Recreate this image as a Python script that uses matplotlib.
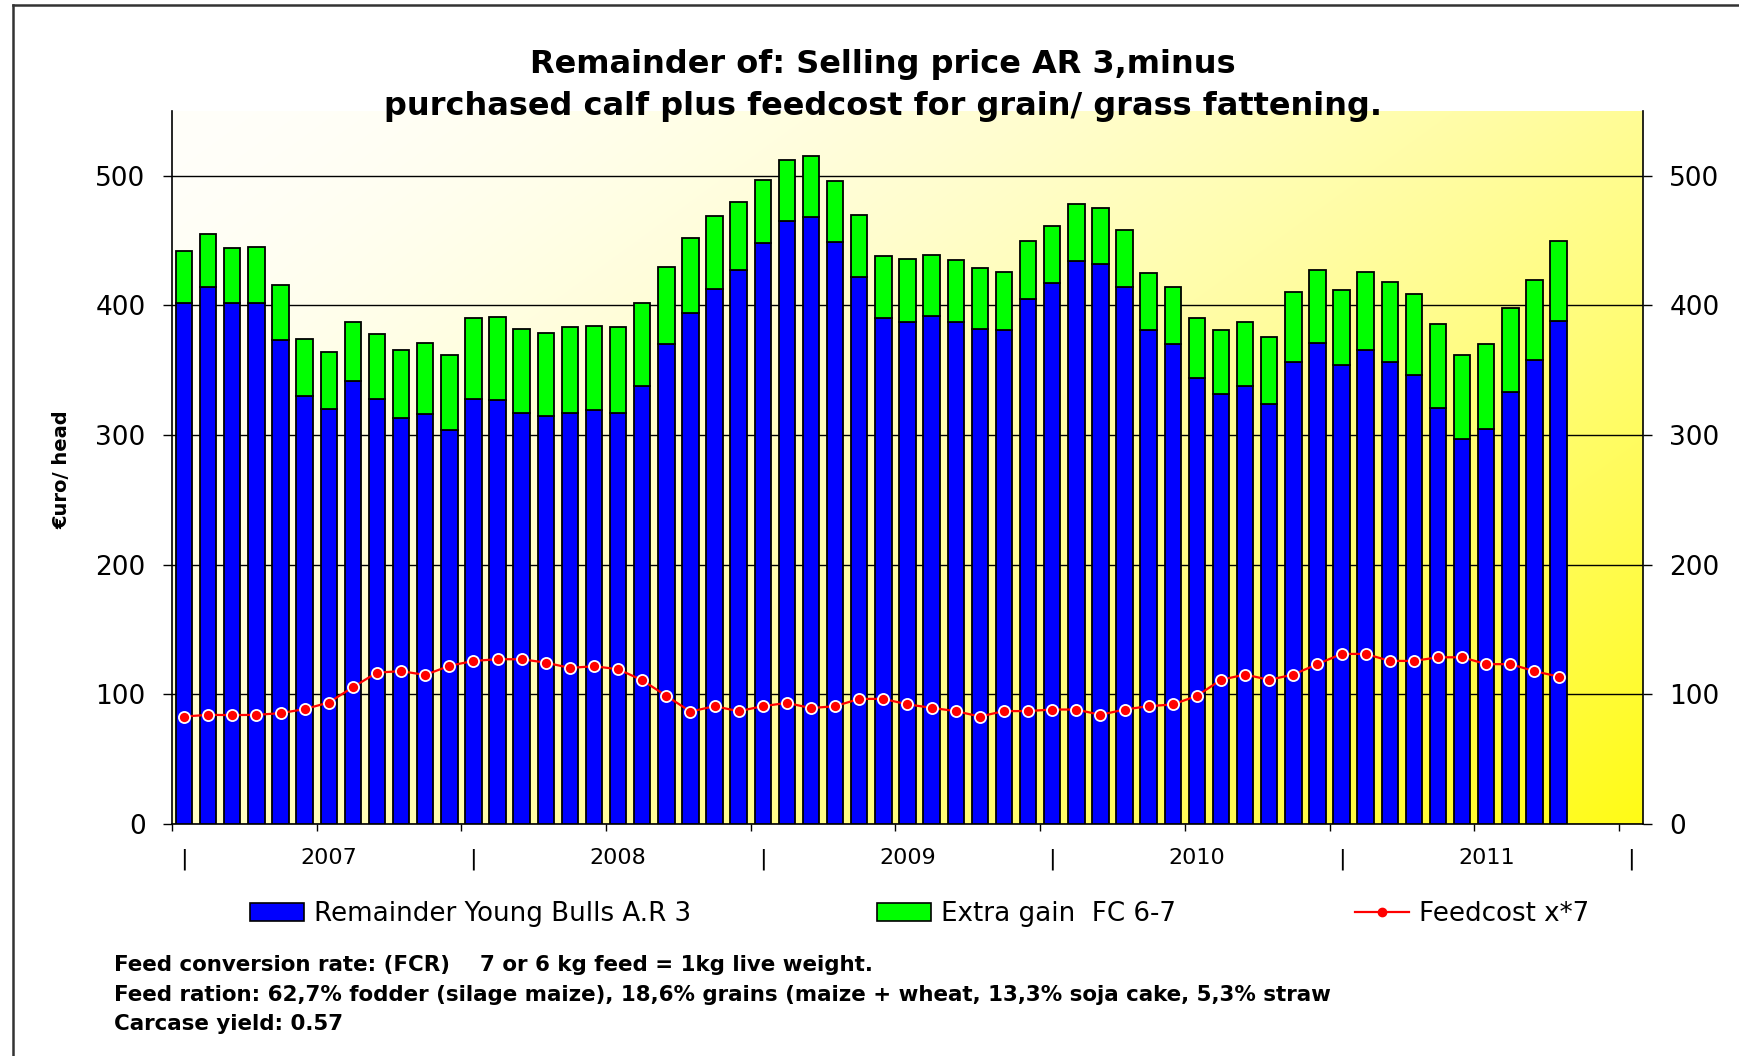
import numpy as np
import matplotlib
matplotlib.use("Agg")
import matplotlib.pyplot as plt
from matplotlib.lines import Line2D
from matplotlib.patches import Patch

# ---------------- data ----------------
remainder = [402, 414, 402, 402, 373, 330, 320, 342, 328, 313, 316, 304,
             328, 327, 317, 315, 317, 319, 317, 338, 370, 394, 413, 427,
             448, 465, 468, 449, 422, 390, 387, 392, 387, 382, 381, 405,
             417, 434, 432, 414, 381, 370, 344, 332, 338, 324, 356, 371,
             354, 366, 356, 346, 321, 297, 305, 333, 358, 388]
extra_gain = [40, 41, 42, 43, 43, 44, 44, 45, 50, 53, 55, 58,
              62, 64, 65, 64, 66, 65, 66, 64, 60, 58, 56, 53,
              49, 47, 47, 47, 48, 48, 49, 47, 48, 47, 45, 45,
              44, 44, 43, 44, 44, 44, 46, 49, 49, 52, 54, 56,
              58, 60, 62, 63, 65, 65, 65, 65, 62, 62]
feedcost = [82.9, 84.2, 84.0, 84.2, 85.5, 88.6, 93.7, 105.5, 116.8, 117.9, 115.0, 122.0,
            125.8, 127.1, 127.1, 124.5, 120.4, 121.7, 119.4, 110.9, 98.8, 86.7, 90.9, 87.0,
            90.9, 93.4, 89.4, 90.9, 96.5, 96.5, 92.3, 89.6, 87.1, 82.9, 87.1, 87.1,
            88.3, 88.3, 84.2, 88.3, 90.9, 92.2, 98.8, 111.2, 115.3, 111.2, 115.3, 123.3,
            131.2, 131.2, 125.8, 125.8, 128.6, 128.6, 123.3, 123.3, 117.9, 113.7]
category_labels = ['|', '2007', '|', '2008', '|', '2009', '|', '2010', '|', '2011', '|']
n_categories = 61
y_ticks = [0, 100, 200, 300, 400, 500]

series_names = ['Remainder Young Bulls A.R 3', 'Extra gain  FC 6-7', 'Feedcost x*7']
title_lines = ['Remainder of: Selling price AR 3,minus',
               'purchased calf plus feedcost for grain/ grass fattening.']
notes = ['Feed conversion rate: (FCR)    7 or 6 kg feed = 1kg live weight.',
         'Feed ration: 62,7% fodder (silage maize), 18,6% grains (maize + wheat, 13,3% soja cake, 5,3% straw',
         'Carcase yield: 0.57']

W, H = 1740, 1056
fig = plt.figure(figsize=(W / 100, H / 100), dpi=100)
fig.patch.set_facecolor('white')

def fx(px):
    return px / W

def fy(py):
    return 1 - py / H

ax = fig.add_axes([fx(172), fy(824), fx(1643) - fx(172), fy(111) - fy(824)])
ax.patch.set_visible(False)

# gradient background (white top-left -> yellow bottom-right)
gu, gv = np.meshgrid(np.linspace(0, 1, 300), np.linspace(0, 1, 300))
s = 0.6 * gu + 0.4 * gv
blue_ch = (250 - 228 * s ** 1.6) / 255.0
grad = np.dstack([np.ones_like(s), np.ones_like(s) * (1 - 0.015 * s), blue_ch])
ax.imshow(grad, extent=[0, 1, 0, 1], transform=ax.transAxes, aspect='auto',
          zorder=0, interpolation='bilinear', origin='upper')

x = np.arange(len(remainder))
ax.bar(x, remainder, width=0.68, color='#0000FF', edgecolor='black', linewidth=1.3, zorder=3)
ax.bar(x, extra_gain, bottom=remainder, width=0.68, color='#00FF00', edgecolor='black',
       linewidth=1.3, zorder=3)
ax.plot(x, feedcost, color='#FF0000', lw=1.6, marker='o', ms=8, mfc='#FF0000', mec='white',
        mew=1.3, zorder=5)

ax.set_xlim(-0.5, n_categories - 0.5)
ax.set_ylim(0, 550)
ax.set_yticks(y_ticks)
ax.set_yticklabels([str(v) for v in y_ticks])
ax.yaxis.grid(True, color='black', lw=1.0)
ax.set_axisbelow(True)
for gl in ax.get_ygridlines():
    gl.set_zorder(1)

ax.tick_params(axis='y', which='major', direction='out', length=6.8, width=1, pad=12.2,
               labelsize=19, left=True, right=True, labelleft=True, labelright=True)

# category axis: boundary ticks every 6 categories, labels at category centres
ax.set_xticks(np.arange(-0.5, n_categories, 6))
ax.set_xticklabels([])
ax.tick_params(axis='x', which='major', direction='out', length=5, width=1)
ax.set_xticks(np.arange(0, n_categories, 6), minor=True)
ax.set_xticklabels(category_labels, minor=True)
ax.tick_params(axis='x', which='minor', length=0, pad=17.5, labelsize=16)

for side in ['left', 'right', 'bottom']:
    ax.spines[side].set_color('black')
    ax.spines[side].set_linewidth(1.2)
ax.spines['top'].set_visible(False)

# title
fig.text(fx(883), fy(65), title_lines[0], ha='center', va='center', fontsize=23,
         fontweight='bold')
fig.text(fx(883), fy(107), title_lines[1], ha='center', va='center', fontsize=23,
         fontweight='bold')

# y label
fig.text(fx(62), fy(470), '€uro/ head', rotation=90, ha='center', va='center',
         fontsize=14, fontweight='bold')

# legend entries
handles = [Patch(facecolor='#0000FF', edgecolor='black', linewidth=1.2),
           Patch(facecolor='#00FF00', edgecolor='black', linewidth=1.2),
           Line2D([], [], color='#FF0000', lw=1.6, marker='o', ms=6, mfc='#FF0000', mec='#FF0000')]
starts = [250, 877, 1355]
for h, name, sx in zip(handles, series_names, starts):
    fig.legend([h], [name], loc='center left', bbox_to_anchor=(fx(sx), fy(914)),
               frameon=False, fontsize=18.8, borderpad=0, borderaxespad=0,
               handlelength=2.05, handleheight=0.7, handletextpad=0.4)

# notes
for txt, py in zip(notes, [965, 995, 1024]):
    fig.text(fx(114), fy(py), txt, ha='left', va='center', fontsize=15.4, fontweight='bold')

# outer frame
fig.add_artist(Line2D([fx(13), fx(13)], [0, fy(5)], transform=fig.transFigure,
                      color='#333333', lw=1.8))
fig.add_artist(Line2D([fx(13), 1], [fy(5), fy(5)], transform=fig.transFigure,
                      color='#333333', lw=1.8))

fig.savefig('out.png', dpi=100)
